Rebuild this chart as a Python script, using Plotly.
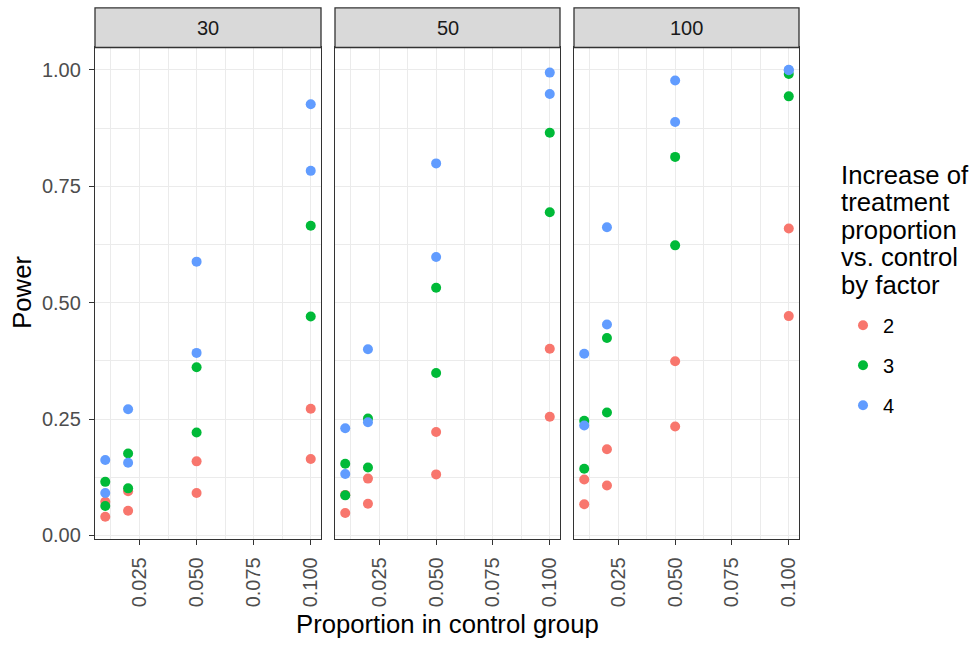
import plotly.graph_objects as go

# ---- data ----
prop = [0.01, 0.01, 0.02, 0.02, 0.05, 0.05, 0.1, 0.1]
sample_sizes = ["30", "50", "100"]
factors = ["2", "3", "4"]

n30_f2 = [0.072, 0.040, 0.095, 0.053, 0.159, 0.091, 0.272, 0.164]
n30_f3 = [0.115, 0.063, 0.176, 0.101, 0.361, 0.221, 0.665, 0.470]
n30_f4 = [0.162, 0.091, 0.271, 0.156, 0.588, 0.392, 0.926, 0.783]
n50_f2 = [0.087, 0.048, 0.122, 0.068, 0.222, 0.131, 0.401, 0.255]
n50_f3 = [0.154, 0.086, 0.251, 0.146, 0.532, 0.349, 0.865, 0.694]
n50_f4 = [0.230, 0.132, 0.400, 0.243, 0.799, 0.598, 0.994, 0.948]
n100_f2 = [0.120, 0.067, 0.185, 0.107, 0.374, 0.234, 0.659, 0.471]
n100_f3 = [0.246, 0.143, 0.424, 0.264, 0.813, 0.623, 0.991, 0.943]
n100_f4 = [0.390, 0.236, 0.662, 0.453, 0.977, 0.888, 1.000, 0.999]

x_ticks = [0.025, 0.050, 0.075, 0.100]
y_ticks = [0.00, 0.25, 0.50, 0.75, 1.00]
legend_title_lines = ["Increase of", "treatment", "proportion", "vs. control", "by factor"]

power = {
    "30": [n30_f2, n30_f3, n30_f4],
    "50": [n50_f2, n50_f3, n50_f4],
    "100": [n100_f2, n100_f3, n100_f4],
}
colors = ["#F8766D", "#00BA38", "#619CFF"]

# ---- layout geometry (pixels) ----
W, H = 972, 648
panel_x = [(95, 321), (335, 560), (574, 799)]
panel_top, panel_bot = 48, 545
strip_top = 8
FONT = "Liberation Sans, Arial, sans-serif"

def px(x):
    return x / W

def py(y):
    return (H - y) / H

all_y = [v for k in power for s in power[k] for v in s]
ymin, ymax = min(all_y), max(all_y)
yexp = (ymax - ymin) * 0.05
yrange = [ymin - yexp, ymax + yexp]
xexp = (max(prop) - min(prop)) * 0.05
xrange = [min(prop) - xexp, max(prop) + xexp]

fig = go.Figure()

for i, n in enumerate(sample_sizes):
    xa = "x" if i == 0 else f"x{i+1}"
    ya = "y" if i == 0 else f"y{i+1}"
    for j, f in enumerate(factors):
        fig.add_trace(go.Scatter(
            x=prop, y=power[n][j], mode="markers",
            marker=dict(color=colors[j], size=10, line=dict(width=0)),
            name=f, legendgroup=f, showlegend=(i == 0),
            xaxis=xa, yaxis=ya,
        ))

grid_major = "#EBEBEB"
axis_font = dict(family=FONT, size=20, color="#4D4D4D")

layout = dict(
    width=W, height=H,
    margin=dict(l=0, r=0, t=0, b=0),
    paper_bgcolor="white", plot_bgcolor="white",
    font=dict(family=FONT, color="#000000"),
    legend=dict(
        x=px(843), y=py(309), xanchor="left", yanchor="top",
        font=dict(size=20, color="#000000"),
        tracegroupgap=11,
        bgcolor="rgba(0,0,0,0)",
    ),
)

shapes = []
annotations = []
for i, n in enumerate(sample_sizes):
    xk = "xaxis" if i == 0 else f"xaxis{i+1}"
    yk = "yaxis" if i == 0 else f"yaxis{i+1}"
    anchor_y = "y" if i == 0 else f"y{i+1}"
    anchor_x = "x" if i == 0 else f"x{i+1}"
    x0, x1 = panel_x[i]
    layout[xk] = dict(
        domain=[px(x0), px(x1)], anchor=anchor_y, range=xrange,
        tickvals=x_ticks, ticktext=[f"{v:.3f}" for v in x_ticks],
        tickangle=-90, tickfont=axis_font, ticklabelstandoff=4,
        ticks="outside", ticklen=5, tickwidth=1.3, tickcolor="#333333",
        showgrid=True, gridcolor=grid_major, gridwidth=1.4,
        minor=dict(tickvals=[0.0125, 0.0375, 0.0625, 0.0875], showgrid=True,
                   gridcolor=grid_major, gridwidth=0.7, ticks=""),
        showline=True, linecolor="#333333", linewidth=1.3, mirror=True,
        zeroline=False,
    )
    layout[yk] = dict(
        domain=[py(panel_bot), py(panel_top)], anchor=anchor_x, range=yrange,
        tickvals=y_ticks, ticktext=[f"{v:.2f}" for v in y_ticks],
        tickfont=axis_font, ticklabelstandoff=4,
        showticklabels=(i == 0),
        ticks="outside" if i == 0 else "", ticklen=5, tickwidth=1.3, tickcolor="#333333",
        showgrid=True, gridcolor=grid_major, gridwidth=1.4,
        minor=dict(tickvals=[0.125, 0.375, 0.625, 0.875], showgrid=True,
                   gridcolor=grid_major, gridwidth=0.7, ticks=""),
        showline=True, linecolor="#333333", linewidth=1.3, mirror=True,
        zeroline=False,
    )
    # strip
    shapes.append(dict(type="rect", xref="paper", yref="paper",
                       x0=px(x0), x1=px(x1), y0=py(panel_top), y1=py(strip_top),
                       fillcolor="#D9D9D9", line=dict(color="#333333", width=1.3),
                       layer="above"))
    annotations.append(dict(text=n, xref="paper", yref="paper",
                            x=px((x0 + x1) / 2), y=py((panel_top + strip_top) / 2),
                            xanchor="center", yanchor="middle", showarrow=False,
                            font=dict(size=20, color="#1A1A1A")))

annotations.append(dict(text="Proportion in control group", xref="paper", yref="paper",
                        x=px((panel_x[0][0] + panel_x[2][1]) / 2), y=py(631),
                        xanchor="center", yanchor="middle", showarrow=False,
                        font=dict(size=25.7, color="#000000")))
annotations.append(dict(text="Power", xref="paper", yref="paper",
                        x=px(22), y=py(296), textangle=-90,
                        xanchor="center", yanchor="middle", showarrow=False,
                        font=dict(size=25.7, color="#000000")))
for k, line in enumerate(legend_title_lines):
    annotations.append(dict(text=line, xref="paper", yref="paper",
                            x=px(839), y=py(177 + 27.7 * k),
                            xanchor="left", yanchor="middle", showarrow=False,
                            font=dict(size=25.7, color="#000000")))

layout["shapes"] = shapes
layout["annotations"] = annotations
fig.update_layout(**layout)

fig.write_html("out.html")
